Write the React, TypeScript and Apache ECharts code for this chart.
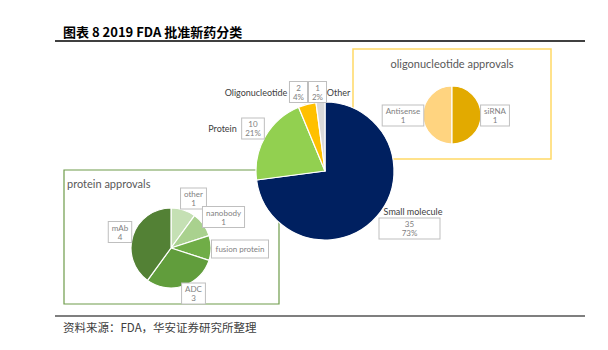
import React, { useEffect, useRef } from "react";
import * as echarts from "echarts";

// ---- data ----
const mainNames = ["Small molecule", "Protein", "Oligonucleotide", "Other"];
const mainValues = [35, 10, 2, 1];
const oligoNames = ["Antisense", "siRNA"];
const oligoValues = [1, 1];
const proteinNames = ["other", "nanobody", "fusion protein", "ADC", "mAb"];
const proteinValues = [1, 1, 1, 3, 4];
const proteinShowValue = [true, true, false, true, true];

const titleText = "图表 8 2019 FDA 批准新药分类";
const sourceText = "资料来源：FDA，华安证券研究所整理";
const oligoTitle = "oligonucleotide approvals";
const proteinTitle = "protein approvals";

// ---- styles / layout ----
const mainColors = ["#002060", "#92D050", "#FFC000", "#D9D9D9"];
const oligoColors = ["#FFD480", "#E2AA00"];
const proteinColors = ["#C5E0B4", "#A9D18E", "#70AD47", "#619D3C", "#538135"];

const mainBoxPos = [[409.5, 228.5], [253, 128.5], [298.5, 92], [317.5, 92]];
const mainBoxWidth = [54, 0, 0, 0];
const mainNamePos = [[413, 211], [222.5, 128], [256, 92], [338.5, 92]];
const oligoBoxPos = [[403, 115.5], [495, 115.5]];
const proteinBoxPos = [[193.5, 198.5], [223.5, 217], [240, 249], [193.5, 293.5], [120, 232]];

const FONT = "Lato, 'Noto Sans', sans-serif";
const CJK = "'Noto Sans CJK SC', sans-serif";

const boxLabel = {
  show: true,
  position: "outside" as const,
  color: "#7F7F7F",
  fontSize: 8,
  lineHeight: 9,
  fontFamily: FONT,
  borderColor: "#BFBFBF",
  borderWidth: 1,
  backgroundColor: "#FFFFFF",
  padding: [1, 3],
  align: "center" as const,
};

const placeAt = (pos: number[][]) => (p: any) => ({
  x: pos[p.dataIndex][0],
  y: pos[p.dataIndex][1],
  align: "center",
  verticalAlign: "middle",
});

export default function App() {
  const ref = useRef<HTMLDivElement>(null);
  useEffect(() => {
    if (!ref.current) return;
    const chart = echarts.init(ref.current, null, { renderer: "svg" });
    const option: any = {
      animation: false,
      backgroundColor: "#FFFFFF",
      graphic: {
        z: 0,
        elements: [
          {
            type: "text",
            x: 63,
            y: 31,
            style: {
              text: titleText,
              font: `bold 13px ${CJK}`,
              fill: "#000",
              verticalAlign: "middle",
            },
          },
          { type: "line", shape: { x1: 55, y1: 41, x2: 585, y2: 41 }, style: { stroke: "#000", lineWidth: 1.5 } },
          {
            type: "rect",
            shape: { x: 64, y: 170, width: 215, height: 134 },
            style: { fill: "none", stroke: "#6E9C4A", lineWidth: 1.2 },
          },
          {
            type: "text",
            x: 67,
            y: 183,
            style: { text: proteinTitle, font: `11px ${FONT}`, fill: "#595959", verticalAlign: "middle" },
          },
          {
            type: "rect",
            shape: { x: 353, y: 49, width: 198, height: 110 },
            style: { fill: "none", stroke: "#FFD966", lineWidth: 1.5 },
          },
          {
            type: "text",
            x: 452,
            y: 63,
            style: { text: oligoTitle, font: `11px ${FONT}`, fill: "#595959", align: "center", verticalAlign: "middle" },
          },
          { type: "line", shape: { x1: 55, y1: 316, x2: 585, y2: 316 }, style: { stroke: "#000", lineWidth: 1.2 } },
          {
            type: "text",
            x: 63,
            y: 327,
            style: { text: sourceText, font: `11.5px ${CJK}`, fill: "#404040", verticalAlign: "middle" },
          },
        ],
      },
      series: [
        {
          type: "pie",
          center: [325, 171],
          radius: 69,
          startAngle: 90,
          clockwise: true,
          percentPrecision: 0,
          avoidLabelOverlap: false,
          emphasis: { disabled: true },
          itemStyle: { borderColor: "#FFFFFF", borderWidth: 1.2 },
          label: { ...boxLabel, formatter: "{c}\n{d}%" },
          labelLine: { show: false },
          labelLayout: placeAt(mainBoxPos),
          data: mainNames.map((n, i) => ({
            name: n,
            value: mainValues[i],
            itemStyle: { color: mainColors[i] },
            label: mainBoxWidth[i] ? { width: mainBoxWidth[i] } : {},
          })),
        },
        {
          type: "pie",
          center: [325, 171],
          radius: 69,
          startAngle: 90,
          clockwise: true,
          silent: true,
          avoidLabelOverlap: false,
          emphasis: { disabled: true },
          itemStyle: { color: "rgba(0,0,0,0)", borderWidth: 0 },
          label: { show: true, position: "outside", formatter: "{b}", color: "#404040", fontSize: 9, fontFamily: FONT },
          labelLine: { show: false },
          labelLayout: placeAt(mainNamePos),
          data: mainNames.map((n, i) => ({ name: n, value: mainValues[i] })),
        },
        {
          type: "pie",
          center: [452, 115],
          radius: 29,
          startAngle: 90,
          clockwise: false,
          avoidLabelOverlap: false,
          emphasis: { disabled: true },
          itemStyle: { borderColor: "#FFFFFF", borderWidth: 1.2 },
          label: { ...boxLabel, formatter: "{b}\n{c}" },
          labelLine: { show: false },
          labelLayout: placeAt(oligoBoxPos),
          data: oligoNames.map((n, i) => ({ name: n, value: oligoValues[i], itemStyle: { color: oligoColors[i] } })),
        },
        {
          type: "pie",
          center: [171, 248],
          radius: 40,
          startAngle: 90,
          clockwise: true,
          avoidLabelOverlap: false,
          emphasis: { disabled: true },
          itemStyle: { borderColor: "#FFFFFF", borderWidth: 1.2 },
          label: {
            ...boxLabel,
            formatter: (p: any) => (proteinShowValue[p.dataIndex] ? `${p.name}\n${p.value}` : p.name),
          },
          labelLine: { show: false },
          labelLayout: placeAt(proteinBoxPos),
          data: proteinNames.map((n, i) => ({
            name: n,
            value: proteinValues[i],
            itemStyle: { color: proteinColors[i] },
            label: proteinShowValue[i] ? {} : { width: 50, overflow: "none", padding: [4, 3] },
          })),
        },
      ],
    };
    chart.setOption(option);
    return () => chart.dispose();
  }, []);
  return (
    <div
      ref={ref}
      style={{ position: "fixed", left: 0, top: 0, width: 608, height: 350, background: "#fff" }}
    />
  );
}
